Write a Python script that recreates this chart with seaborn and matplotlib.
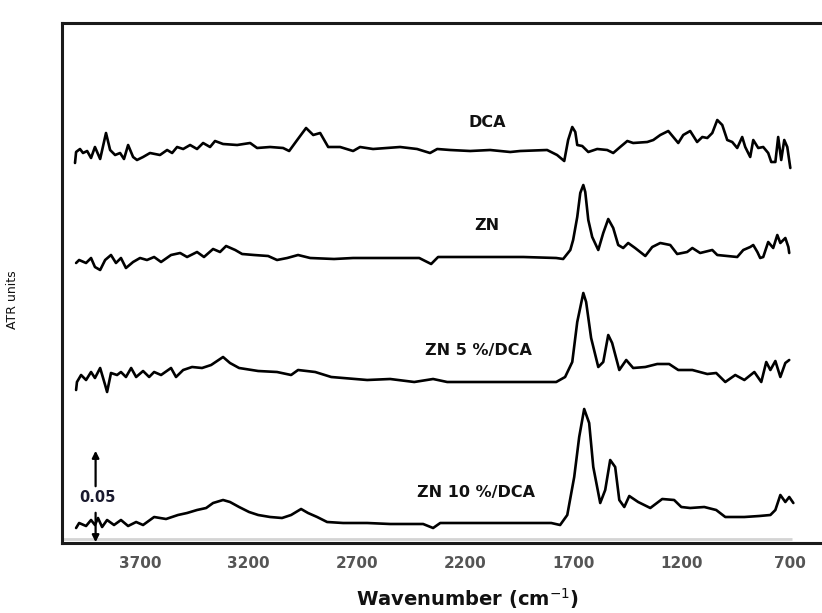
import matplotlib
matplotlib.use("Agg")
import matplotlib.pyplot as plt
import seaborn as sns

# Wavenumbers (cm-1) and ATR values, traces already stacked
dca_wn = [4000, 3995, 3977, 3963, 3944, 3926, 3908, 3884, 3857, 3838, 3815, 3792, 3774, 3755,
          3732, 3714, 3686, 3654, 3608, 3575, 3552, 3529, 3501, 3469, 3437, 3409, 3377, 3354,
          3317, 3252, 3192, 3160, 3100, 3040, 3012, 2975, 2934, 2901, 2869, 2832, 2777, 2717,
          2685, 2625, 2500, 2422, 2362, 2329, 2269, 2177, 2085, 1992, 1946, 1822, 1776, 1743,
          1725, 1706, 1692, 1683, 1660, 1632, 1591, 1545, 1517, 1485, 1452, 1425, 1360, 1332,
          1300, 1263, 1240, 1217, 1194, 1162, 1130, 1106, 1083, 1060, 1037, 1014, 991, 968,
          945, 922, 908, 885, 871, 848, 825, 802, 788, 769, 756, 742, 728, 714, 700]
dca_val = [0.190, 0.1955, 0.197, 0.195, 0.196, 0.1925, 0.198, 0.192, 0.205, 0.1965, 0.194,
           0.195, 0.192, 0.199, 0.193, 0.1915, 0.193, 0.195, 0.194, 0.1965, 0.195, 0.198,
           0.197, 0.199, 0.197, 0.200, 0.198, 0.201, 0.1995, 0.199, 0.200, 0.1975, 0.198,
           0.1975, 0.196, 0.2015, 0.2075, 0.204, 0.205, 0.198, 0.198, 0.196, 0.198, 0.197,
           0.198, 0.197, 0.195, 0.197, 0.1965, 0.196, 0.1965, 0.1955, 0.196, 0.1965, 0.194,
           0.191, 0.2015, 0.208, 0.2055, 0.199, 0.1985, 0.1955, 0.197, 0.1965, 0.195, 0.198,
           0.201, 0.200, 0.2005, 0.2015, 0.204, 0.206, 0.203, 0.200, 0.204, 0.206, 0.2005,
           0.203, 0.2025, 0.205, 0.2115, 0.209, 0.2015, 0.2005, 0.1975, 0.203, 0.198, 0.193,
           0.2015, 0.1975, 0.198, 0.195, 0.1905, 0.1905, 0.203, 0.1915, 0.2015, 0.198, 0.1875]

zn_wn = [3995, 3981, 3949, 3926, 3908, 3884, 3861, 3834, 3811, 3788, 3765, 3732, 3700, 3668,
         3635, 3603, 3557, 3515, 3483, 3437, 3405, 3363, 3331, 3303, 3261, 3229, 3174, 3109,
         3068, 3021, 2971, 2915, 2805, 2717, 2546, 2412, 2357, 2325, 2260, 2108, 1932, 1780,
         1748, 1715, 1702, 1683, 1669, 1655, 1646, 1632, 1614, 1586, 1563, 1540, 1517, 1494,
         1471, 1448, 1416, 1369, 1337, 1300, 1254, 1222, 1176, 1152, 1116, 1060, 1037, 991,
         945, 917, 885, 871, 852, 839, 825, 802, 779, 760, 746, 723, 709, 705]
zn_val = [0.140, 0.1415, 0.140, 0.1425, 0.138, 0.1365, 0.1415, 0.144, 0.140, 0.1425, 0.1375,
          0.1405, 0.1425, 0.1415, 0.143, 0.1405, 0.144, 0.145, 0.143, 0.1455, 0.143, 0.147,
          0.1455, 0.1485, 0.1465, 0.1445, 0.144, 0.1435, 0.1415, 0.1425, 0.144, 0.1425, 0.142,
          0.1425, 0.1425, 0.1425, 0.1395, 0.143, 0.143, 0.143, 0.143, 0.1425, 0.142, 0.1465,
          0.1515, 0.163, 0.175, 0.179, 0.1755, 0.1615, 0.153, 0.1465, 0.155, 0.162, 0.1575,
          0.149, 0.1475, 0.150, 0.1475, 0.1435, 0.148, 0.150, 0.149, 0.1445, 0.1455, 0.1475,
          0.145, 0.1465, 0.144, 0.1435, 0.143, 0.1465, 0.148, 0.149, 0.1455, 0.1425, 0.143,
          0.1505, 0.1475, 0.154, 0.150, 0.1525, 0.148, 0.145]

zn5_wn = [3995, 3991, 3972, 3949, 3926, 3908, 3884, 3861, 3852, 3834, 3806, 3788, 3765, 3741,
          3718, 3686, 3658, 3635, 3603, 3557, 3534, 3501, 3460, 3414, 3372, 3317, 3285, 3243,
          3155, 3068, 3003, 2971, 2892, 2818, 2763, 2652, 2546, 2435, 2348, 2283, 2108, 1932,
          1780, 1739, 1706, 1683, 1655, 1642, 1619, 1586, 1563, 1540, 1522, 1489, 1457, 1425,
          1369, 1314, 1259, 1217, 1152, 1083, 1042, 1000, 954, 912, 866, 834, 811, 792, 769,
          746, 723, 705]
zn5_val = [0.0765, 0.0805, 0.084, 0.0815, 0.0855, 0.0825, 0.0875, 0.079, 0.0755, 0.085, 0.084,
           0.0855, 0.083, 0.0875, 0.083, 0.086, 0.083, 0.0855, 0.084, 0.0875, 0.083, 0.0865,
           0.088, 0.0875, 0.089, 0.093, 0.090, 0.0875, 0.086, 0.0855, 0.084, 0.0865, 0.0855,
           0.083, 0.0825, 0.0815, 0.082, 0.0805, 0.082, 0.0805, 0.0805, 0.0805, 0.0805, 0.083,
           0.0905, 0.1105, 0.125, 0.1205, 0.1025, 0.088, 0.0905, 0.104, 0.100, 0.0865, 0.0915,
           0.0875, 0.088, 0.0895, 0.0895, 0.0865, 0.0865, 0.0845, 0.085, 0.0805, 0.084, 0.0815,
           0.0855, 0.0805, 0.0905, 0.0865, 0.091, 0.083, 0.090, 0.0915]

zn10_wn = [3995, 3981, 3949, 3926, 3908, 3894, 3875, 3852, 3820, 3788, 3755, 3718, 3686, 3635,
           3580, 3525, 3483, 3437, 3395, 3363, 3317, 3285, 3243, 3197, 3155, 3100, 3045, 3003,
           2957, 2925, 2883, 2837, 2763, 2652, 2546, 2394, 2348, 2315, 2218, 2002, 1803, 1762,
           1729, 1697, 1674, 1651, 1628, 1609, 1577, 1554, 1531, 1508, 1489, 1466, 1443, 1402,
           1346, 1291, 1236, 1203, 1162, 1097, 1042, 1000, 912, 843, 792, 769, 746, 723, 705, 686]
zn10_val = [0.0075, 0.010, 0.0085, 0.0115, 0.009, 0.0125, 0.008, 0.0115, 0.009, 0.0115, 0.0085,
            0.0105, 0.009, 0.013, 0.012, 0.014, 0.015, 0.0165, 0.0175, 0.020, 0.0215, 0.0205,
            0.018, 0.0155, 0.014, 0.013, 0.0125, 0.014, 0.017, 0.015, 0.013, 0.0105, 0.010,
            0.010, 0.0095, 0.0095, 0.0075, 0.010, 0.010, 0.010, 0.010, 0.009, 0.014, 0.033,
            0.053, 0.067, 0.060, 0.038, 0.020, 0.0265, 0.0415, 0.038, 0.0215, 0.018, 0.0235,
            0.0205, 0.0175, 0.022, 0.0215, 0.018, 0.0175, 0.018, 0.0165, 0.013, 0.013, 0.0135,
            0.014, 0.0165, 0.024, 0.0205, 0.023, 0.020]

traces = [(dca_wn, dca_val), (zn_wn, zn_val), (zn5_wn, zn5_val), (zn10_wn, zn10_val)]
trace_names = ["DCA", "ZN", "ZN 5 %/DCA", "ZN 10 %/DCA"]
label_pos = [(2098, 0.2105), (2098, 0.159), (2140, 0.0965), (2150, 0.0255)]
x_ticks = [3700, 3200, 2700, 2200, 1700, 1200, 700]

sns.set_style("white")
plt.rcParams['font.family'] = ['DejaVu Sans']

fig = plt.figure(figsize=(8.22, 6.13), dpi=100)
# axes runs a little past the right edge so its right border is cut off, as in the original
ax = fig.add_axes([62 / 822, 70 / 613, 1.02 - 62 / 822, 520 / 613])

for (wn, val) in traces:
    sns.lineplot(x=wn, y=val, ax=ax, color="black", linewidth=1.9, sort=False)

for name, (x, y) in zip(trace_names, label_pos):
    ax.text(x, y, name, ha="center", va="center", fontsize=11.5, fontweight="bold", color="#111111")

# light grey edge just above the bottom axis line
ax.hlines(0.0022, 4060, 690, color="#d4d4d4", linewidth=2.0)

# 0.05 scale bar
ax.annotate("", xy=(3905, 0.0475), xytext=(3905, 0.027),
            arrowprops=dict(arrowstyle="-|>", color="black", lw=1.6, mutation_scale=10))
ax.annotate("", xy=(3905, -0.001), xytext=(3905, 0.0165),
            arrowprops=dict(arrowstyle="-|>", color="black", lw=1.6, mutation_scale=10),
            annotation_clip=False)
ax.text(3898, 0.0225, "0.05", ha="center", va="center", fontsize=10.5, fontweight="bold", color="#1a1a2e")

ax.set_xlim(4060, 478)
ax.set_ylim(0, 0.26)
ax.set_xticks(x_ticks)
ax.set_xticklabels([str(t) for t in x_ticks], fontsize=11, fontweight="bold", color="#555555")
ax.set_yticks([])
ax.tick_params(axis="x", length=0, pad=9)

for side in ["top", "left", "bottom", "right"]:
    ax.spines[side].set_color("#1a1a1a")
    ax.spines[side].set_linewidth(2.2)
    ax.spines[side].set_visible(True)

ax.set_xlabel("Wavenumber (cm$^{-1}$)", fontsize=14, fontweight="bold", color="#111111")
ax.xaxis.set_label_coords(0.523, -0.083)
ax.set_ylabel("ATR units", fontsize=9, color="#111111")
ax.yaxis.set_label_coords(-0.055, 0.467)

plt.savefig("out.png", dpi=100)
